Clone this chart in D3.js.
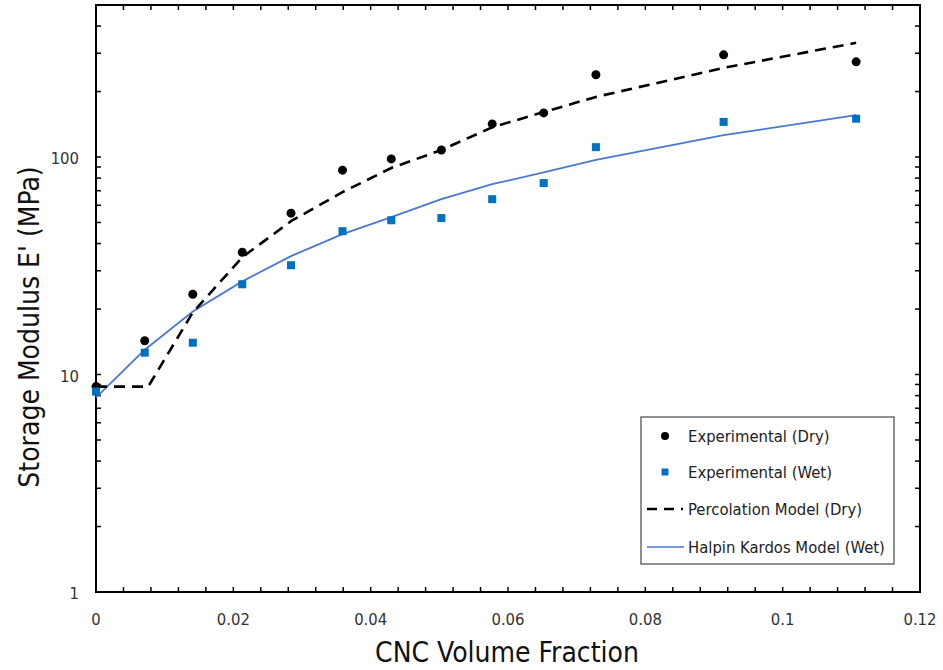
<!DOCTYPE html>
<html>
<head>
<meta charset="utf-8">
<script src="https://cdn.jsdelivr.net/npm/d3@7"></script>
<style>
  body { margin: 0; background: #fff; }
  svg text { font-family: "DejaVu Sans Condensed", "DejaVu Sans", Verdana, sans-serif; font-stretch: condensed; }
</style>
</head>
<body>
<svg id="chart" width="943" height="670"></svg>
<script>
var volFraction = [0, 0.0071, 0.0141, 0.0213, 0.0284, 0.0359, 0.043, 0.0503, 0.0577, 0.0652, 0.0728, 0.0914, 0.1107];
var dryModulus = [8.8, 14.3, 23.4, 36.5, 55.2, 87, 98, 107.7, 142, 159.5, 239, 295, 274];
var wetModulus = [8.35, 12.6, 14.0, 26.0, 31.8, 45.6, 51.2, 52.4, 64.0, 75.9, 111, 145, 150];

// model curves
var percX = [0, 0.0076, 0.0141, 0.0213, 0.0284, 0.0359, 0.043, 0.0503, 0.0577, 0.0652, 0.0728, 0.0914, 0.1107];
var percY = [8.8, 8.8, 19.3, 34.6, 50.7, 69, 89, 107.7, 137, 161, 189, 257, 335];
var hkX = [0, 0.0071, 0.0141, 0.0213, 0.0284, 0.0359, 0.043, 0.0503, 0.0577, 0.0652, 0.0728, 0.0914, 0.1107];
var hkY = [7.83, 13.0, 19.5, 26.8, 35.0, 44.2, 52.9, 64, 75, 85, 97, 126, 156];

var xTicks = [0, 0.02, 0.04, 0.06, 0.08, 0.1, 0.12];
var xTickLabels = ["0", "0.02", "0.04", "0.06", "0.08", "0.1", "0.12"];
var yTicks = [1, 10, 100];
var legendLabels = ["Experimental (Dry)", "Experimental (Wet)", "Percolation Model (Dry)", "Halpin Kardos Model (Wet)"];

var plotL = 96, plotR = 920, plotT = 5, plotB = 592;
var svg = d3.select("#chart");

var x = d3.scaleLinear().domain([0, 0.12]).range([plotL, plotR]);
var y = d3.scaleLog().domain([1, 500]).range([plotB, plotT]);

var dryColor = "#000";
var wetColor = "#0070c0";
var hkColor = "#4a78cf";

// minor ticks
var xMinor = d3.range(0, 0.1201, 0.004);
var yMinor = [];
[1, 10, 100].forEach(function(d) {
    for (var k = 1; k < 10; k++) if (d * k <= 500) yMinor.push(d * k);
});

var tickG = svg.append("g").attr("stroke", "#000").attr("stroke-width", 1.5);
xMinor.forEach(function(v) {
    var len = 5;
    tickG.append("line").attr("x1", x(v)).attr("x2", x(v)).attr("y1", plotB).attr("y2", plotB - len);
    tickG.append("line").attr("x1", x(v)).attr("x2", x(v)).attr("y1", plotT).attr("y2", plotT + len);
});
yMinor.forEach(function(v) {
    var len = 5;
    tickG.append("line").attr("x1", plotL).attr("x2", plotL + len).attr("y1", y(v)).attr("y2", y(v));
    tickG.append("line").attr("x1", plotR).attr("x2", plotR - len).attr("y1", y(v)).attr("y2", y(v));
});

// frame
svg.append("rect")
    .attr("x", plotL).attr("y", plotT)
    .attr("width", plotR - plotL).attr("height", plotB - plotT)
    .attr("fill", "none").attr("stroke", "#000").attr("stroke-width", 2);

// tick labels
svg.append("g").selectAll("text").data(xTicks).enter().append("text")
    .attr("x", function(d) { return x(d); })
    .attr("y", 625)
    .attr("text-anchor", "middle")
    .attr("font-size", 16.5)
    .attr("fill", "#333")
    .text(function(d, i) { return xTickLabels[i]; });

svg.append("g").selectAll("text").data(yTicks).enter().append("text")
    .attr("x", 79)
    .attr("y", function(d) { return y(d) + 7; })
    .attr("text-anchor", "end")
    .attr("font-size", 16.5)
    .attr("fill", "#333")
    .text(function(d) { return d; });

// axis titles
svg.append("text")
    .attr("x", 507).attr("y", 662)
    .attr("text-anchor", "middle")
    .attr("font-size", 28)
    .attr("fill", "#111")
    .text("CNC Volume Fraction");

svg.append("text")
    .attr("transform", "translate(39," + 327 + ") rotate(-90)")
    .attr("text-anchor", "middle")
    .attr("font-size", 28)
    .attr("fill", "#111")
    .text("Storage Modulus E' (MPa)");

// model lines
var line = d3.line()
    .x(function(d) { return x(d[0]); })
    .y(function(d) { return y(d[1]); });

svg.append("path")
    .datum(hkX.map(function(v, i) { return [v, hkY[i]]; }))
    .attr("d", line)
    .attr("fill", "none")
    .attr("stroke", hkColor)
    .attr("stroke-width", 1.8);

svg.append("path")
    .datum(percX.map(function(v, i) { return [v, percY[i]]; }))
    .attr("d", line)
    .attr("fill", "none")
    .attr("stroke", "#000")
    .attr("stroke-width", 2.6)
    .attr("stroke-dasharray", "11,7");

// experimental points
svg.append("g").selectAll("circle").data(volFraction).enter().append("circle")
    .attr("cx", function(d) { return x(d); })
    .attr("cy", function(d, i) { return y(dryModulus[i]); })
    .attr("r", 4.5)
    .attr("fill", dryColor);

svg.append("g").selectAll("rect").data(volFraction).enter().append("rect")
    .attr("x", function(d) { return x(d) - 4; })
    .attr("y", function(d, i) { return y(wetModulus[i]) - 4; })
    .attr("width", 8).attr("height", 8)
    .attr("fill", wetColor);

// legend
var lg = svg.append("g");
lg.append("rect")
    .attr("x", 641).attr("y", 417)
    .attr("width", 253).attr("height", 147)
    .attr("fill", "#fff")
    .attr("stroke", "#555")
    .attr("stroke-width", 1.3);

var rowY = [436, 472, 509, 547];
lg.append("circle").attr("cx", 665).attr("cy", rowY[0]).attr("r", 4).attr("fill", dryColor);
lg.append("rect").attr("x", 661.5).attr("y", rowY[1] - 3.5).attr("width", 7).attr("height", 7).attr("fill", wetColor);
lg.append("line").attr("x1", 647).attr("x2", 683).attr("y1", rowY[2]).attr("y2", rowY[2])
    .attr("stroke", "#000").attr("stroke-width", 2.6).attr("stroke-dasharray", "10,7");
lg.append("line").attr("x1", 647).attr("x2", 684).attr("y1", rowY[3]).attr("y2", rowY[3])
    .attr("stroke", hkColor).attr("stroke-width", 1.6);

lg.selectAll("text.lbl").data(legendLabels).enter().append("text")
    .attr("class", "lbl")
    .attr("x", 688)
    .attr("y", function(d, i) { return rowY[i] + 6; })
    .attr("font-size", 16.5)
    .attr("fill", "#222")
    .text(function(d) { return d; });
</script>
</body>
</html>
